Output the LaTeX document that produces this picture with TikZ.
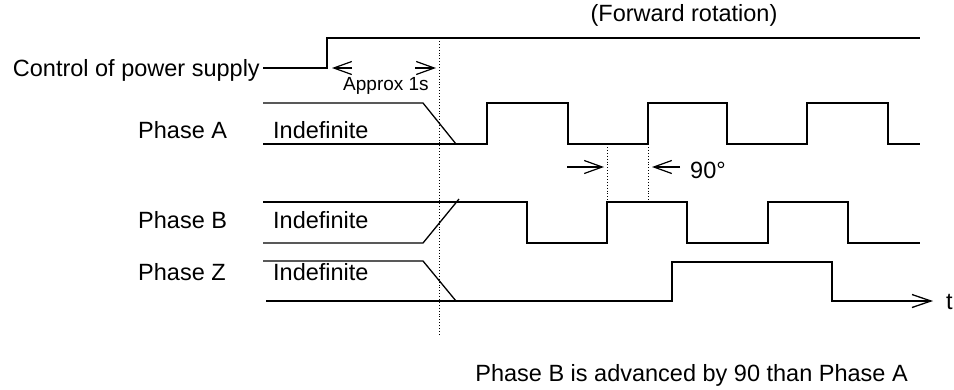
\documentclass[tikz,border=0pt]{standalone}
\usepackage{fontspec}
\setmainfont{Liberation Sans}
\usetikzlibrary{arrows.meta}
\begin{document}
\begin{tikzpicture}[x=1pt,y=-1pt,
  wave/.style={line width=1.3pt, line join=miter},
  lbl/.style={inner sep=0pt, font=\fontsize{23.5}{27}\selectfont},
  smalllbl/.style={inner sep=0pt, font=\fontsize{19}{23}\selectfont},
  guide/.style={dotted, line width=0.9pt},
  dimarrow/.style={line width=1.2pt, -{Straight Barb[length=18pt,width=13pt]}}]
\useasboundingbox (0,0) rectangle (954,389);

% labels
\node[lbl, anchor=base] (fwd) at (684,21) {(Forward rotation)};
\node[lbl, anchor=base east] (pwr) at (260,76) {Control of power supply};
\node[smalllbl, anchor=base] (approx) at (386,90) {Approx 1s};
\node[lbl, anchor=base west] (pa) at (138,138) {Phase A};
\node[lbl, anchor=base west] (pb) at (138,228) {Phase B};
\node[lbl, anchor=base west] (pz) at (138,280) {Phase Z};
\node[lbl, anchor=base west] (ia) at (273,138) {Indefinite};
\node[lbl, anchor=base west] (ib) at (273,228) {Indefinite};
\node[lbl, anchor=base west] (iz) at (273,280) {Indefinite};
\node[lbl, anchor=base west] (deg) at (690,178) {90°};
\node[lbl, anchor=base west] (tlbl) at (946,309) {t};
\node[lbl, anchor=base east] (note) at (908,381) {Phase B is advanced by 90 than Phase A};

% power supply
\draw[wave] (263,68) -- (327,68) -- (327,38) -- (920,38);

% time-span arrows
\coordinate (a1s) at (352,68); \coordinate (a1e) at (332,68);
\coordinate (a2s) at (415,68); \coordinate (a2e) at (436,68);
\draw[dimarrow] (a1s) -- (a1e);
\draw[dimarrow] (a2s) -- (a2e);

% main dotted guide
\draw[guide] (439,38) -- (439,336);

% Phase A
\draw[wave] (263,103) -- (423,103) -- (456,144);
\draw[wave] (263,144) -- (487,144) -- (487,103) -- (568,103) -- (568,144)
  -- (648,144) -- (648,103) -- (727,103) -- (727,144) -- (807,144)
  -- (807,103) -- (888,103) -- (888,144) -- (920,144);

% Phase B
\draw[wave] (263,243) -- (423,243) -- (459,199);
\draw[wave] (263,202) -- (527,202) -- (527,243) -- (607,243) -- (607,202)
  -- (687,202) -- (687,243) -- (768,243) -- (768,202) -- (848,202)
  -- (848,243) -- (920,243);

% Phase Z
\draw[wave] (263,261) -- (423,261) -- (456,301);
\draw[wave, -{Straight Barb[length=19pt,width=13pt]}] (266,301) -- (672,301) -- (672,262)
  -- (832,262) -- (832,301) -- (933,301);

% 90 degree markers
\draw[guide] (607,147) -- (607,202);
\draw[guide] (648,147) -- (648,202);
\coordinate (b1s) at (567,167); \coordinate (b1e) at (604,167);
\coordinate (b2s) at (680,167); \coordinate (b2e) at (652,167);
\draw[dimarrow] (b1s) -- (b1e);
\draw[dimarrow] (b2s) -- (b2e);
\end{tikzpicture}
\end{document}
